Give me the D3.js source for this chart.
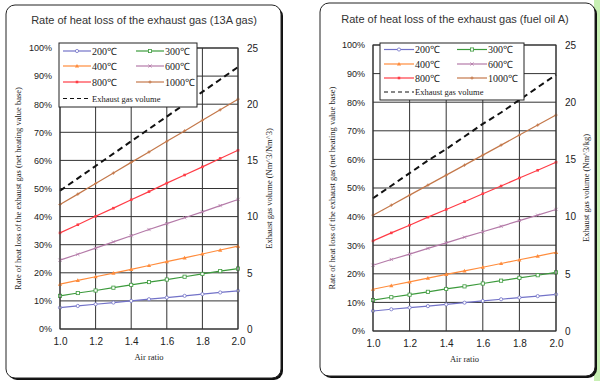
<!DOCTYPE html>
<html>
<head>
<meta charset="utf-8">
<script src="https://cdn.jsdelivr.net/npm/d3@7"></script>
<style>
  body { margin: 0; background: #fff; }
  svg { display: block; }
  .tick text { font-family: "Liberation Sans", Arial, sans-serif; }
</style>
</head>
<body>
<div id="chart"></div>
<script>
// air ratio steps (x axis)
var airRatio = [1.0, 1.1, 1.2, 1.3, 1.4, 1.5, 1.6, 1.7, 1.8, 1.9, 2.0];
var xTicks = [1.0, 1.2, 1.4, 1.6, 1.8, 2.0];
var yTicksPct = [0, 10, 20, 30, 40, 50, 60, 70, 80, 90, 100];
var yTicksVol = [0, 5, 10, 15, 20, 25];

var seriesNames = ["200\u2103", "300\u2103", "400\u2103", "600\u2103", "800\u2103", "1000\u2103"];
var seriesColors = ["#7272c8", "#3c9a3c", "#ff8c3c", "#b47aa8", "#ff3c46", "#c4784a"];
var seriesMarks = ["circle", "square", "triangle", "cross", "filled", "plus"];

// 13A gas - heat loss rate (%)
var gas200 = [7.6, 8.2, 8.8, 9.4, 10.0, 10.6, 11.2, 11.8, 12.4, 13.0, 13.6];
var gas300 = [11.8, 12.8, 13.7, 14.7, 15.7, 16.7, 17.6, 18.6, 19.6, 20.6, 21.5];
var gas400 = [16.0, 17.3, 18.6, 19.9, 21.2, 22.6, 24.0, 25.3, 26.7, 28.1, 29.5];
var gas600 = [24.5, 26.6, 28.8, 31.0, 33.2, 35.4, 37.5, 39.6, 41.7, 43.9, 46.1];
var gas800 = [34.2, 37.1, 40.1, 43.0, 46.0, 48.9, 51.9, 54.8, 57.7, 60.7, 63.6];
var gas1000 = [44.3, 48.0, 51.8, 55.5, 59.3, 63.0, 66.8, 70.5, 74.3, 78.0, 81.8];
// 13A gas - exhaust gas volume (Nm3/Nm3)
var gasVolume = [12.3, 13.4, 14.5, 15.6, 16.7, 17.8, 18.9, 20.0, 21.1, 22.2, 23.3];

// fuel oil A - heat loss rate (%)
var oil200 = [7.0, 7.6, 8.2, 8.7, 9.3, 9.9, 10.5, 11.1, 11.7, 12.2, 12.8];
var oil300 = [10.8, 11.8, 12.7, 13.7, 14.7, 15.6, 16.6, 17.6, 18.6, 19.5, 20.5];
var oil400 = [14.6, 15.9, 17.2, 18.5, 19.8, 21.0, 22.3, 23.6, 24.9, 26.2, 27.5];
var oil600 = [23.0, 25.0, 26.9, 28.9, 30.8, 32.8, 34.7, 36.6, 38.6, 40.5, 42.5];
var oil800 = [31.5, 34.3, 37.0, 39.8, 42.5, 45.2, 48.0, 50.7, 53.5, 56.2, 59.0];
var oil1000 = [40.5, 44.0, 47.5, 51.0, 54.5, 58.0, 61.5, 65.0, 68.5, 72.0, 75.5];
// fuel oil A - exhaust gas volume (Nm3/kg)
var oilVolume = [11.6, 12.7, 13.8, 14.9, 15.9, 17.0, 18.1, 19.1, 20.2, 21.3, 22.4];

var svg = d3.select("#chart").append("svg")
  .attr("width", 600)
  .attr("height", 381);

// light green edge on the far right
svg.append("rect").attr("x", 594).attr("y", 0).attr("width", 6).attr("height", 381).attr("fill", "#c8f0b4");

function drawMarker(g, kind, x, y, color, s) {
  if (kind == "circle") {
    g.append("circle").attr("cx", x).attr("cy", y).attr("r", s)
      .attr("fill", "#fff").attr("stroke", color).attr("stroke-width", 0.8);
  } else if (kind == "square") {
    g.append("rect").attr("x", x - s).attr("y", y - s).attr("width", 2 * s).attr("height", 2 * s)
      .attr("fill", "#fff").attr("stroke", color).attr("stroke-width", 0.8);
  } else if (kind == "triangle") {
    g.append("path").attr("d", `M${x},${y - s - 0.5}L${x + s + 0.5},${y + s}L${x - s - 0.5},${y + s}Z`)
      .attr("fill", color);
  } else if (kind == "cross") {
    g.append("path").attr("d", `M${x - s},${y - s}L${x + s},${y + s}M${x - s},${y + s}L${x + s},${y - s}`)
      .attr("stroke", color).attr("stroke-width", 0.8);
  } else if (kind == "filled") {
    g.append("rect").attr("x", x - s * 0.8).attr("y", y - s * 0.8).attr("width", 1.6 * s).attr("height", 1.6 * s)
      .attr("fill", color);
  } else {
    g.append("path").attr("d", `M${x - s},${y}L${x + s},${y}M${x},${y - s}L${x},${y + s}`)
      .attr("stroke", color).attr("stroke-width", 0.9);
  }
}

function drawPanel(p) {
  // frame with shadow
  svg.append("rect").attr("x", p.frame[0] + 2).attr("y", p.frame[1] + 2)
    .attr("width", p.frame[2] - p.frame[0]).attr("height", p.frame[3] - p.frame[1])
    .attr("rx", 9).attr("fill", "#111");
  svg.append("rect").attr("x", p.frame[0]).attr("y", p.frame[1])
    .attr("width", p.frame[2] - p.frame[0]).attr("height", p.frame[3] - p.frame[1])
    .attr("rx", 9).attr("fill", "#fff").attr("stroke", "#222").attr("stroke-width", 1);

  svg.append("text")
    .attr("x", p.titleX).attr("y", p.titleY)
    .attr("text-anchor", "middle")
    .style("font-family", "Liberation Sans, Arial, sans-serif")
    .style("font-size", "11px")
    .attr("fill", "#333")
    .text(p.title);

  var x = d3.scaleLinear().domain([1.0, 2.0]).range([p.left, p.right]);
  var y = d3.scaleLinear().domain([0, 100]).range([p.bottom, p.top]);
  var y2 = d3.scaleLinear().domain([0, 25]).range([p.bottom, p.top]);

  var g = svg.append("g");

  // grid
  g.selectAll(".hg").data(yTicksPct).enter().append("line")
    .attr("x1", p.left).attr("x2", p.right)
    .attr("y1", d => y(d)).attr("y2", d => y(d))
    .attr("stroke", "#333").attr("stroke-width", 1);
  g.selectAll(".vg").data(xTicks).enter().append("line")
    .attr("x1", d => x(d)).attr("x2", d => x(d))
    .attr("y1", p.top).attr("y2", p.bottom)
    .attr("stroke", "#333").attr("stroke-width", 1);

  // axes
  var xAxis = g.append("g").attr("transform", `translate(0, ${p.bottom})`)
    .call(d3.axisBottom(x).tickValues(xTicks).tickFormat(d3.format(".1f")).tickSize(0).tickPadding(9));
  var yAxis = g.append("g").attr("transform", `translate(${p.left}, 0)`)
    .call(d3.axisLeft(y).tickValues(yTicksPct).tickFormat(d => d + "%").tickSize(0).tickPadding(8));
  var yAxis2 = g.append("g").attr("transform", `translate(${p.right}, 0)`)
    .call(d3.axisRight(y2).tickValues(yTicksVol).tickSize(0).tickPadding(9));
  [xAxis, yAxis, yAxis2].forEach(function(a) {
    a.select(".domain").remove();
    a.selectAll("text").style("font-size", "10px").attr("fill", "#222");
  });
  yAxis.selectAll("text").style("font-size", "9px");

  // axis titles
  svg.append("text")
    .attr("transform", `translate(${p.yLabelX}, ${(p.top + p.bottom) / 2}) rotate(-90)`)
    .attr("text-anchor", "middle")
    .style("font-family", "Liberation Serif, serif").style("font-size", "8.5px")
    .attr("fill", "#222")
    .text("Rate of heat loss of the exhaust gas (net heating value base)");
  svg.append("text")
    .attr("transform", `translate(${p.y2LabelX}, ${(p.top + p.bottom) / 2}) rotate(-90)`)
    .attr("text-anchor", "middle")
    .style("font-family", "Liberation Serif, serif").style("font-size", "8.5px")
    .attr("fill", "#222")
    .text(p.volLabel);
  svg.append("text")
    .attr("x", (p.left + p.right) / 2).attr("y", p.bottom + 31)
    .attr("text-anchor", "middle")
    .style("font-family", "Liberation Serif, serif").style("font-size", "8.5px")
    .attr("fill", "#222")
    .text("Air ratio");

  // series lines
  var line = d3.line().x((d, i) => x(airRatio[i])).y(d => y(d));
  p.series.forEach(function(vals, k) {
    g.append("path").datum(vals)
      .attr("d", line)
      .attr("fill", "none")
      .attr("stroke", seriesColors[k])
      .attr("stroke-width", 1.2);
    vals.forEach(function(v, i) {
      drawMarker(g, seriesMarks[k], x(airRatio[i]), y(v), seriesColors[k], 1.6);
    });
  });

  // exhaust gas volume
  var volLine = d3.line().x((d, i) => x(airRatio[i])).y(d => y2(d));
  g.append("path").datum(p.volume)
    .attr("d", volLine)
    .attr("fill", "none")
    .attr("stroke", "#111")
    .attr("stroke-width", 2)
    .attr("stroke-dasharray", "6,4");

  // border of plot
  g.append("rect").attr("x", p.left).attr("y", p.top)
    .attr("width", p.right - p.left).attr("height", p.bottom - p.top)
    .attr("fill", "none").attr("stroke", "#333").attr("stroke-width", 1);

  // legend
  var L = p.legend;
  var lg = svg.append("g");
  lg.append("rect").attr("x", L.x).attr("y", L.y).attr("width", L.w).attr("height", L.h)
    .attr("fill", "#fff").attr("stroke", "#222").attr("stroke-width", 1);
  seriesNames.forEach(function(name, k) {
    var col = k % 2, row = Math.floor(k / 2);
    var lx = L.x + 4 + col * L.colW;
    var ly = L.rows[row];
    lg.append("line").attr("x1", lx).attr("x2", lx + L.lineW).attr("y1", ly).attr("y2", ly)
      .attr("stroke", seriesColors[k]).attr("stroke-width", 1.2);
    drawMarker(lg, seriesMarks[k], lx + L.lineW / 2, ly, seriesColors[k], 1.6);
    lg.append("text").attr("x", lx + L.lineW + 1).attr("y", ly + 3.5)
      .style("font-family", "Liberation Serif, serif").style("font-size", "10px")
      .attr("fill", "#222")
      .text(name);
  });
  var ey = L.rows[3];
  lg.append("line").attr("x1", L.x + 4).attr("x2", L.x + 4 + L.lineW).attr("y1", ey).attr("y2", ey)
    .attr("stroke", "#111").attr("stroke-width", 1.2).attr("stroke-dasharray", "4,3");
  lg.append("text").attr("x", L.x + 5 + L.lineW).attr("y", ey + 3)
    .style("font-family", "Liberation Serif, serif").style("font-size", "8.5px")
    .attr("fill", "#222")
    .text("Exhaust gas volume");
}

drawPanel({
  frame: [6, 5, 281, 378],
  title: "Rate of heat loss of the exhaust gas (13A gas)",
  titleX: 144, titleY: 24,
  left: 60, right: 238, top: 48, bottom: 329,
  yLabelX: 21, y2LabelX: 272,
  volLabel: "Exhaust gas volume (Nm^3/Nm^3)",
  series: [gas200, gas300, gas400, gas600, gas800, gas1000],
  volume: gasVolume,
  legend: { x: 59, y: 43, w: 138, h: 64, colW: 73, lineW: 28, rows: [51, 66, 82, 98.5] }
});

drawPanel({
  frame: [320, 3, 595, 376],
  title: "Rate of heat loss of the exhaust gas (fuel oil A)",
  titleX: 455, titleY: 23,
  left: 373, right: 556, top: 45, bottom: 331,
  yLabelX: 335, y2LabelX: 589,
  volLabel: "Exhaust gas volume (Nm^3/kg)",
  series: [oil200, oil300, oil400, oil600, oil800, oil1000],
  volume: oilVolume,
  legend: { x: 380, y: 43, w: 144, h: 57, colW: 73, lineW: 30, rows: [49.5, 64, 78, 92] }
});
</script>
</body>
</html>
